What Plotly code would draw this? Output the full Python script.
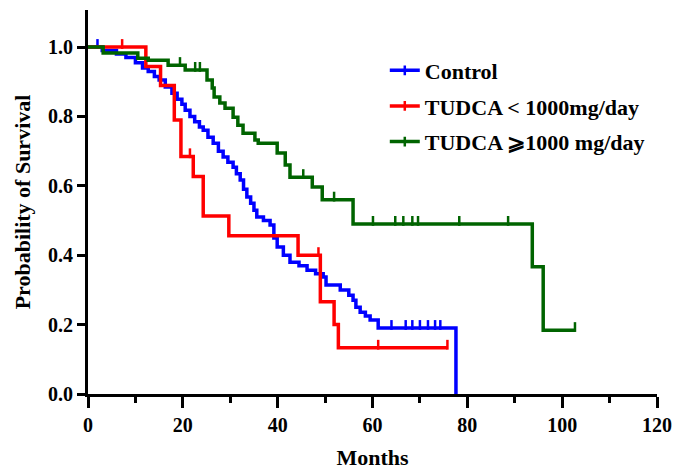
import plotly.graph_objects as go

# ---------------- data ----------------
ctrl_t = [0, 3, 6, 8, 10, 11.5, 12.7, 14, 15, 16.3, 17.7, 18.8, 19.8, 20.5, 21.5,
          22.5, 23.5, 24.3, 25.3, 26.4, 27.5, 28.5, 29.5, 30.6, 31.3, 32.1, 32.8,
          33.5, 34.3, 35.0, 35.6, 37.0, 38.4, 39.2, 39.9, 41.2, 42.6, 44.5, 46.2,
          48.0, 49.6, 50.2, 53.2, 55.0, 55.9, 56.5, 57.4, 58.5, 59.5, 61.2, 77.6]
ctrl_s = [1.0, 0.99, 0.98, 0.97, 0.955, 0.94, 0.93, 0.915, 0.905, 0.885, 0.867,
          0.85, 0.835, 0.818, 0.80, 0.785, 0.77, 0.76, 0.74, 0.723, 0.70, 0.683,
          0.668, 0.654, 0.635, 0.617, 0.59, 0.568, 0.55, 0.53, 0.51, 0.50, 0.487,
          0.45, 0.424, 0.40, 0.38, 0.37, 0.357, 0.347, 0.337, 0.314, 0.30, 0.285,
          0.27, 0.25, 0.236, 0.225, 0.213, 0.19, 0.0]
ctrl_cens = [2, 64, 67, 68.4, 70, 71.7, 73.2, 74.3]
ctrl_end = 77.6

low_t = [0, 12.2, 15.3, 18.2, 19.6, 22.2, 24.3, 29.7, 44.3, 49.0, 51.9, 52.8]
low_s = [1.0, 0.944, 0.889, 0.79, 0.685, 0.627, 0.513, 0.456, 0.40, 0.266, 0.20, 0.133]
low_cens = [7.2, 21.5, 48.6, 61.2, 75.8]
low_end = 75.8

high_t = [0, 3.2, 10.5, 12.7, 16.9, 20.5, 25.1, 26.2, 26.6, 27.8, 28.9, 30.6, 31.6,
          32.7, 35.2, 35.9, 39.9, 41.6, 42.6, 47.3, 49.4, 55.9, 93.7, 96.0]
high_s = [1.0, 0.983, 0.968, 0.962, 0.948, 0.934, 0.905, 0.882, 0.856, 0.839, 0.824,
          0.798, 0.775, 0.752, 0.732, 0.723, 0.695, 0.66, 0.625, 0.597, 0.56, 0.49,
          0.367, 0.184]
high_cens = [19.4, 22.6, 23.6, 45.4, 51.9, 60.1, 64.8, 66.5, 68.4, 69.6, 78.3, 88.6, 102.7]
high_end = 102.7

names = ["Control", "TUDCA < 1000mg/day", "TUDCA ⩾1000 mg/day"]
colors = ["#0000FF", "#FF0000", "#006400"]
x_ticks = [0, 20, 40, 60, 80, 100, 120]
y_ticks = [0.0, 0.2, 0.4, 0.6, 0.8, 1.0]

groups = [(ctrl_t, ctrl_s, ctrl_cens, ctrl_end),
          (low_t, low_s, low_cens, low_end),
          (high_t, high_s, high_cens, high_end)]

FONT = "Liberation Serif"
TICK_UP = 0.009  # censor ticks sit on top of the line

def surv_at(t, ts, ss):
    v = ss[0]
    for ti, si in zip(ts, ss):
        if ti <= t:
            v = si
    return v

fig = go.Figure()
for (ts, ss, cens, end), name, col in zip(groups, names, colors):
    xs = list(ts) + [end]
    ys = list(ss) + [ss[-1]]
    fig.add_trace(go.Scatter(x=xs, y=ys, mode="lines", line=dict(color=col, width=3.5, shape="hv"),
                             showlegend=False, hoverinfo="skip"))
    fig.add_trace(go.Scatter(x=cens, y=[surv_at(c, ts, ss) + TICK_UP for c in cens], mode="markers",
                             marker=dict(symbol="line-ns", size=7, line=dict(color=col, width=2.5)),
                             showlegend=False, hoverinfo="skip"))
    fig.add_trace(go.Scatter(x=[None], y=[None], mode="lines+markers", name=name, legendgroup=name,
                             line=dict(color=col, width=3.5),
                             marker=dict(symbol="line-ns", size=7, line=dict(color=col, width=2.5))))

fig.update_layout(
    width=676, height=470,
    margin=dict(l=88, r=19, t=10, b=76),
    paper_bgcolor="white", plot_bgcolor="white",
    font=dict(family=FONT, color="black", size=20, weight="bold"),
    legend=dict(x=0.5216, y=0.897, xanchor="left", yanchor="top",
                font=dict(family=FONT, size=22, weight="bold"),
                bgcolor="rgba(0,0,0,0)", tracegroupgap=4, traceorder="grouped",
                itemwidth=30),
    xaxis=dict(range=[0, 120], tickvals=x_ticks, ticktext=[str(v) for v in x_ticks],
               automargin=False,
               showgrid=False, zeroline=False, showline=True, linecolor="black", linewidth=3,
               ticks="outside", ticklen=11, tickwidth=3, tickcolor="black",
               minor=dict(dtick=10, tick0=0, ticks="outside", ticklen=6, tickwidth=3, tickcolor="black"),
               tickfont=dict(family=FONT, size=20, weight="bold"),
               title=dict(text="Months", font=dict(family=FONT, size=22, weight="bold"), standoff=16)),
    yaxis=dict(range=[0, 1.107], tickvals=y_ticks, ticktext=[f"{v:.1f}" for v in y_ticks],
               automargin=False,
               showgrid=False, zeroline=False, showline=True, linecolor="black", linewidth=3,
               ticks="outside", ticklen=8, tickwidth=3, tickcolor="black",
               tickfont=dict(family=FONT, size=20, weight="bold"),
               title=dict(text="Probability of Survival", font=dict(family=FONT, size=22, weight="bold"), standoff=12)),
)

fig.write_html("out.html",
               config={"displayModeBar": False},
               post_script="document.body.style.margin='0';document.body.style.overflow='hidden';")
